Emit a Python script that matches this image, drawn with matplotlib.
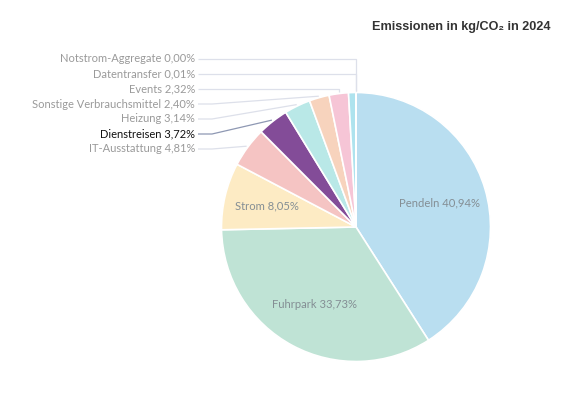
import numpy as np
import matplotlib
matplotlib.use('Agg')
import matplotlib.pyplot as plt

W, H = 583, 397

categories = ['Pendeln', 'Fuhrpark', 'Strom', 'IT-Ausstattung', 'Dienstreisen', 'Heizung',
              'Sonstige Verbrauchsmittel', 'Events', '', 'Datentransfer', 'Notstrom-Aggregate']
values = [40.94, 33.73, 8.05, 4.81, 3.72, 3.14, 2.40, 2.32, 0.88, 0.01, 0.00]
pct_labels = ['40,94%', '33,73%', '8,05%', '4,81%', '3,72%', '3,14%', '2,40%', '2,32%', '', '0,01%', '0,00%']
colors = ['#b9def0', '#bfe3d5', '#fdebc4', '#f5c4c3', '#834c98', '#b9e8e7',
          '#f7d3bd', '#f6c5d6', '#aee3ee', '#fbe8c8', '#f2f2f2']
inside = ['Pendeln', 'Fuhrpark', 'Strom']

cx, cy, r = 356, H - 227, 134.5

fig = plt.figure(figsize=(W / 100, H / 100), dpi=100)
ax = fig.add_axes([0, 0, 1, 1])
wedges, _ = ax.pie(values, colors=colors, startangle=90, counterclock=False,
                   center=(cx, cy), radius=r,
                   wedgeprops=dict(edgecolor='white', linewidth=1.2))
ax.set_xlim(0, W)
ax.set_ylim(0, H)
ax.set_aspect('equal')
ax.axis('off')

font = ['Lato', 'DejaVu Sans']

# labels inside the big slices
for w, cat, p in zip(wedges, categories, pct_labels):
    if cat not in inside:
        continue
    mid = np.deg2rad((w.theta1 + w.theta2) / 2)
    d = 0.68 * r if cat == 'Strom' else 0.65 * r
    ax.text(cx + d * np.cos(mid), cy + d * np.sin(mid), f'{cat} {p}',
            ha='center', va='center', fontsize=8.1, color='#848e94', family=font)

# small slices: stacked labels on the left with connectors
outer = [(w, c, p) for w, c, p in zip(wedges, categories, pct_labels) if c and c not in inside]
outer = outer[::-1]
y0, step, xr = 59, 15, 195
for i, (w, cat, p) in enumerate(outer):
    ly = H - (y0 + i * step)
    mid = np.deg2rad((w.theta1 + w.theta2) / 2)
    tx = cx + (r + 1.5) * np.cos(mid)
    ty = cy + (r + 1.5) * np.sin(mid)
    hot = cat == 'Dienstreisen'
    ax.text(xr, ly, f'{cat} {p}', ha='right', va='center', fontsize=8.05,
            color='#111111' if hot else '#9a9a9a', family=font)
    if ty - ly > 25 or abs(tx - cx) < 25:
        xs, ys = [xr + 3, tx, tx], [ly, ly, ty]
    else:
        xs, ys = [xr + 3, xr + 17, tx], [ly, ly, ty]
    ax.plot(xs, ys, color='#8e98b3' if hot else '#dde0ea', lw=0.9, solid_capstyle='butt')

fig.text(372 / W, 1 - 27 / H, 'Emissionen in kg/CO₂ in 2024', ha='left', va='center',
         fontsize=9.1, fontweight='bold', color='#333333', family=['Liberation Sans', 'DejaVu Sans'])

fig.savefig('out.png', dpi=100, facecolor='white')
